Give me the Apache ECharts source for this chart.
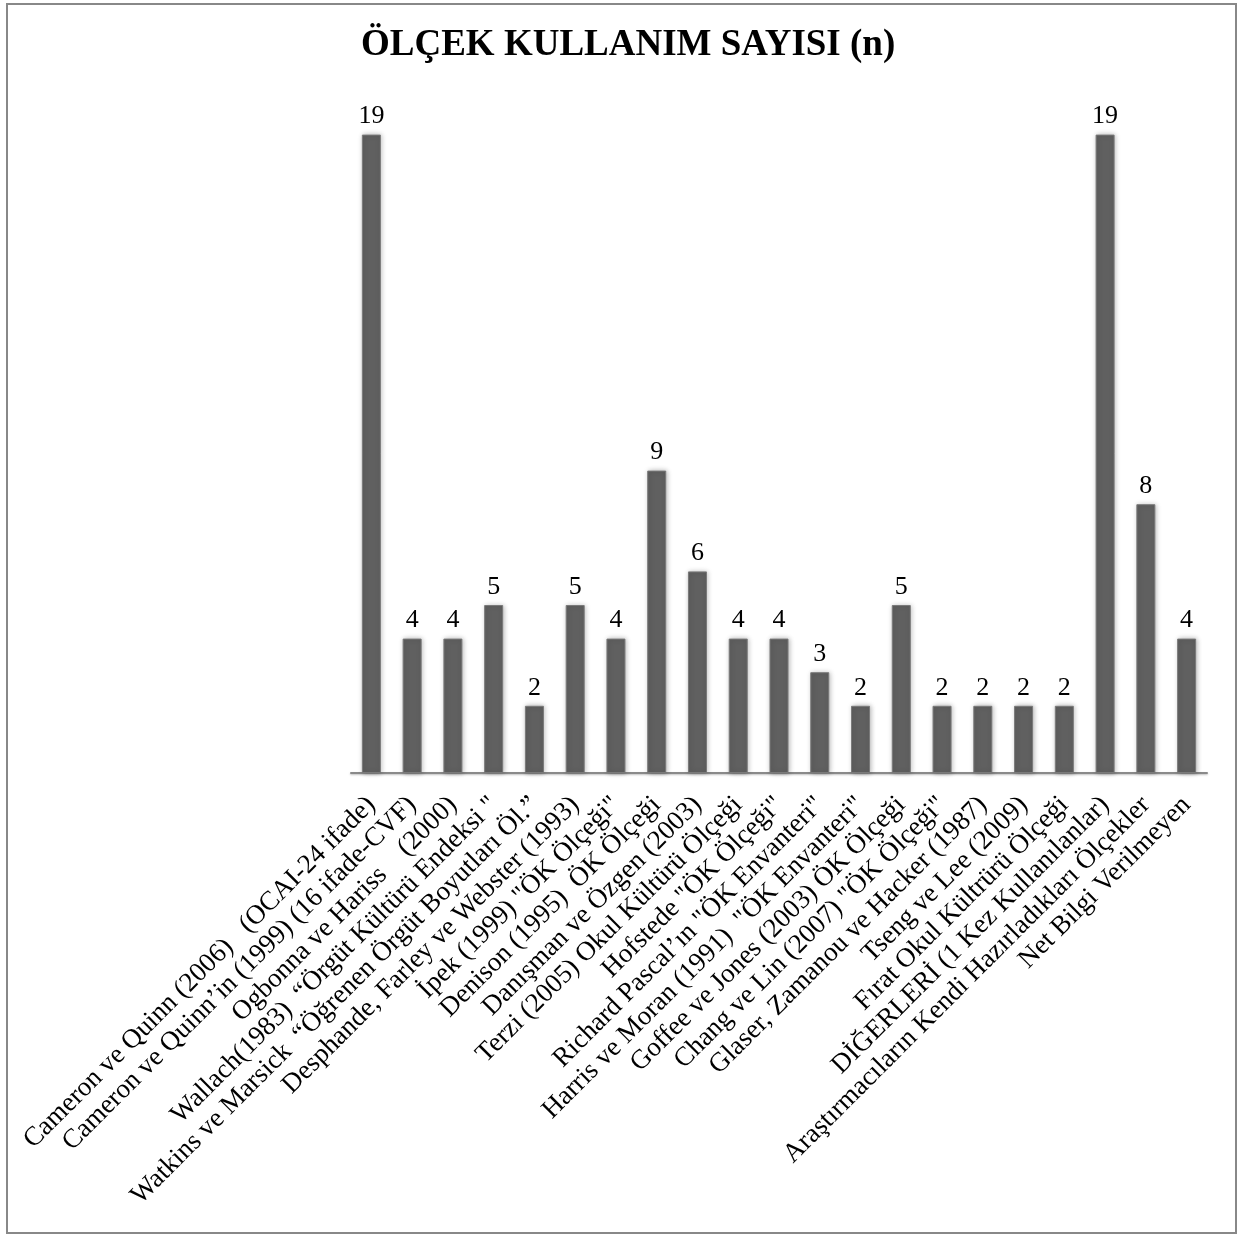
<!DOCTYPE html>
<html>
<head>
<meta charset="utf-8">
<script src="https://cdn.jsdelivr.net/npm/echarts@6/dist/echarts.min.js"></script>
<style>
html,body{margin:0;padding:0;background:#fff;}
#chart{width:1239px;height:1234px;}
</style>
</head>
<body>
<div id="chart"></div>
<script>
const titleText = 'ÖLÇEK KULLANIM SAYISI (n)';
const categories = [
  'Cameron ve Quinn (2006)   (OCAI-24 ifade)',
  'Cameron ve Quinn’in (1999) (16 ifade-CVF)',
  'Ogbonna ve Hariss    (2000)',
  'Wallach(1983)  “Örgüt Kültürü Endeksi "',
  'Watkins ve Marsick  “Öğrenen Örgüt Boyutları Öl.”',
  'Desphande, Farley ve Webster (1993)',
  'İpek (1999) "ÖK Ölçeği"',
  'Denison (1995)  ÖK Ölçeği',
  'Danışman ve Özgen (2003)',
  'Terzi (2005) Okul Kültürü Ölçeği',
  'Hofstede "ÖK Ölçeği"',
  'Richard Pascal’ın "ÖK Envanteri"',
  'Harris ve Moran (1991)  "ÖK Envanteri"',
  'Goffee ve Jones (2003) ÖK Ölçeği',
  'Chang ve Lin (2007) "ÖK Ölçeği"',
  'Glaser, Zamanou ve Hacker (1987)',
  'Tseng ve Lee (2009)',
  'Fırat Okul Kültrürü Ölçeği',
  'DİĞERLERİ (1 Kez Kullanılanlar)',
  'Araştırmacıların Kendi Hazırladıkları Ölçekler',
  'Net Bilgi Verilmeyen'
];
const values = [19, 4, 4, 5, 2, 5, 4, 9, 6, 4, 4, 3, 2, 5, 2, 2, 2, 2, 19, 8, 4];

const serif = '"Liberation Serif", "DejaVu Serif", serif';
const chart = echarts.init(document.getElementById('chart'));
chart.setOption({
  backgroundColor: '#ffffff',
  animation: false,
  title: {
    text: titleText,
    left: 356,
    top: 22,
    textStyle: { fontFamily: serif, fontWeight: 'bold', fontSize: 37, color: '#000' }
  },
  graphic: [{
    type: 'rect',
    shape: { x: 7, y: 4, width: 1229, height: 1229 },
    style: { fill: 'none', stroke: '#888', lineWidth: 2 },
    silent: true
  }],
  grid: { left: 351, right: 32, top: 101, bottom: 461, containLabel: false },
  xAxis: {
    type: 'category',
    data: categories,
    axisLine: { show: true, lineStyle: { color: '#8a8a8a', width: 2, shadowBlur: 2, shadowColor: 'rgba(0,0,0,0.25)', shadowOffsetY: 1 } },
    axisTick: { show: false },
    axisLabel: {
      interval: 0,
      rotate: 45,
      margin: 28,
      fontFamily: serif,
      fontSize: 27,
      color: '#000'
    }
  },
  yAxis: {
    type: 'value',
    min: 0,
    max: 20,
    show: false,
    splitLine: { show: false }
  },
  series: [{
    type: 'bar',
    data: values,
    barWidth: 19,
    itemStyle: {
      color: '#606060',
      borderColor: '#7a7a7a',
      borderWidth: 1,
      shadowBlur: 5,
      shadowColor: 'rgba(0,0,0,0.28)',
      shadowOffsetX: 1,
      shadowOffsetY: 0
    },
    label: {
      show: true,
      position: 'top',
      distance: 5,
      fontFamily: serif,
      fontSize: 26,
      color: '#000'
    }
  }]
});
</script>
</body>
</html>
